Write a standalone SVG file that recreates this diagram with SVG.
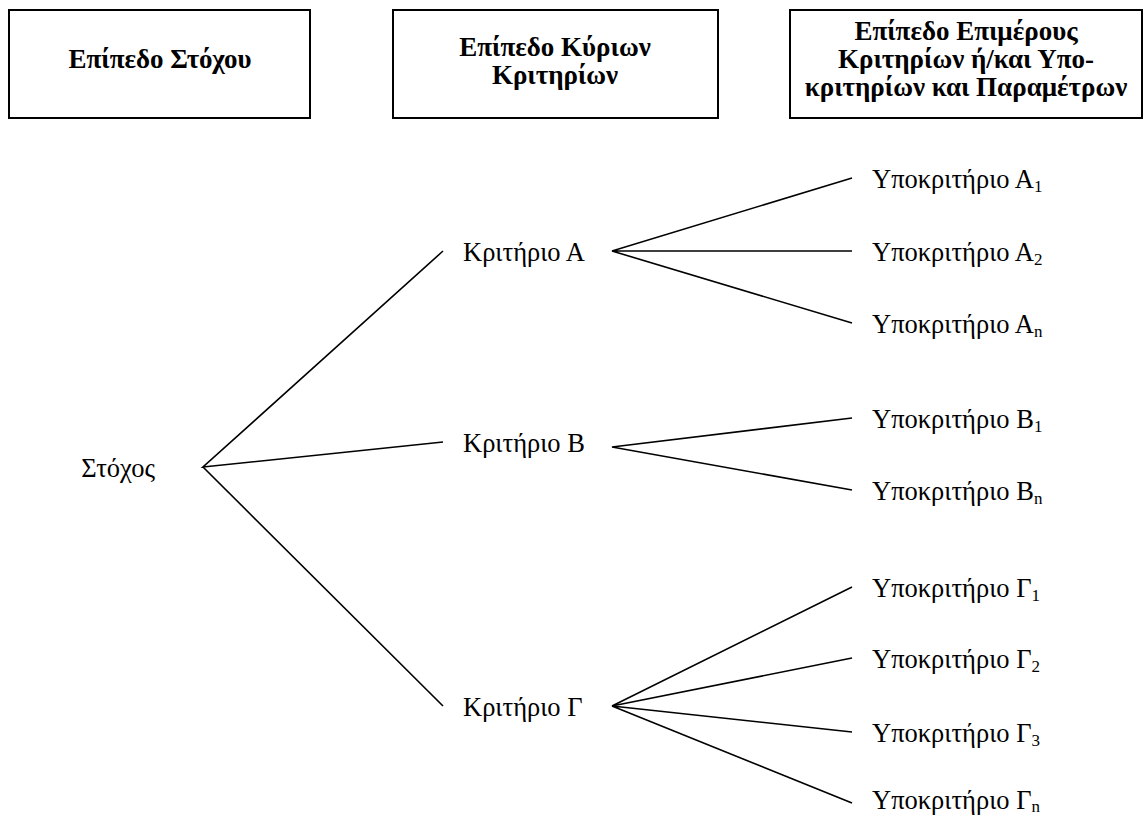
<svg xmlns="http://www.w3.org/2000/svg" width="1144" height="817" viewBox="0 0 1144 817">
<style>
.box{fill:#fff;stroke:#000;stroke-width:2}
.h{font-family:"Liberation Serif","Times New Roman",serif;font-weight:bold;font-size:27px;fill:#000;text-anchor:middle}
.t{font-family:"Liberation Serif","Times New Roman",serif;font-size:26.5px;fill:#000}
.s{font-size:17px}
.c{stroke:#000;stroke-width:1.6;fill:none}
</style>
<rect width="1144" height="817" fill="#fff"/>
<g id="hdr1"><rect class="box" x="9" y="10" width="301" height="108"/><text class="h" x="160" y="68">Επίπεδο Στόχου</text></g>
<g id="hdr2"><rect class="box" x="393" y="10" width="325" height="108"/><text class="h" x="555" y="56">Επίπεδο Κύριων</text><text class="h" x="555" y="84">Κριτηρίων</text></g>
<g id="hdr3"><rect class="box" x="790" y="10" width="352" height="108"/><text class="h" x="966" y="40">Επίπεδο Επιμέρους</text><text class="h" x="966" y="68">Κριτηρίων ή/και Υπο-</text><text class="h" x="966" y="96">κριτηρίων και Παραμέτρων</text></g>
<g id="connectors">
<path class="c" d="M443 251 L203 467 L443 442 M203 467 L443 706"/>
<path class="c" d="M852 178 L612 251 L852 251 M612 251 L852 323"/>
<path class="c" d="M852 418 L612 447 L852 490"/>
<path class="c" d="M852 587 L612 706 L852 658 M612 706 L852 732 M612 706 L852 803"/>
</g>
<g id="goal"><text class="t" x="155" y="477" text-anchor="end">Στόχος</text></g>
<g id="critA"><text class="t" x="463" y="261">Κριτήριο Α</text></g>
<g id="critB"><text class="t" x="463" y="452">Κριτήριο Β</text></g>
<g id="critG"><text class="t" x="463" y="716">Κριτήριο Γ</text></g>
<g id="subA1"><text class="t" x="872" y="188">Υποκριτήριο Α<tspan class="s" dy="4">1</tspan></text></g>
<g id="subA2"><text class="t" x="872" y="261">Υποκριτήριο Α<tspan class="s" dy="4">2</tspan></text></g>
<g id="subAn"><text class="t" x="872" y="333">Υποκριτήριο Α<tspan class="s" dy="4">n</tspan></text></g>
<g id="subB1"><text class="t" x="872" y="428">Υποκριτήριο Β<tspan class="s" dy="4">1</tspan></text></g>
<g id="subBn"><text class="t" x="872" y="500">Υποκριτήριο Β<tspan class="s" dy="4">n</tspan></text></g>
<g id="subG1"><text class="t" x="872" y="597">Υποκριτήριο Γ<tspan class="s" dy="4">1</tspan></text></g>
<g id="subG2"><text class="t" x="872" y="668">Υποκριτήριο Γ<tspan class="s" dy="4">2</tspan></text></g>
<g id="subG3"><text class="t" x="872" y="742">Υποκριτήριο Γ<tspan class="s" dy="4">3</tspan></text></g>
<g id="subGn"><text class="t" x="872" y="809">Υποκριτήριο Γ<tspan class="s" dy="3">n</tspan></text></g>
</svg>
